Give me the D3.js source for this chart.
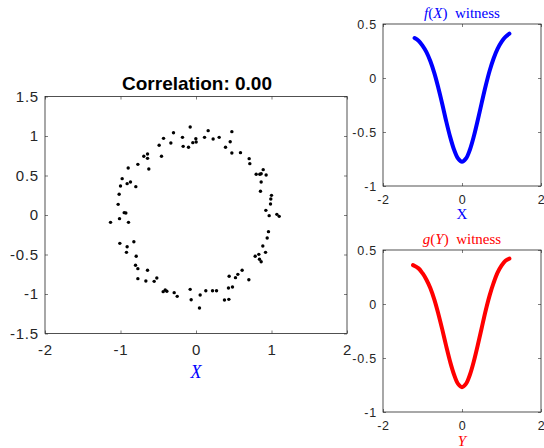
<!DOCTYPE html>
<html>
<head>
<meta charset="utf-8">
<script src="https://cdn.jsdelivr.net/npm/d3@7"></script>
<style>
  body { margin: 0; background: #fff; }
  svg { display: block; }
  .tick text { font-family: "Liberation Sans", Arial, sans-serif; fill: #262626; }
</style>
</head>
<body>
<script>
// scatter samples (X, Y)
var ptsX = [-0.077, -0.298, -0.430, -0.488, -0.333, -0.179, -0.170, -0.099, -0.002, -0.042,
  0.002, 0.113, 0.161, 0.227, 0.307, 0.475, 0.453, 0.391, 0.475, 0.589,
  -0.457, -0.691, -0.642, -0.642, -0.625, -0.770, -0.898, -0.978, -1.000, -0.912,
  -0.868, -0.797, -1.018, -1.031, -0.951, -0.929, -1.013, -1.132, -0.894,
  0.704, 0.713, 0.890, 0.797, 0.845, 0.863, 0.929, 0.863, 0.854, 1.000,
  0.991, 0.987, 0.925, 0.969, 1.071, 1.102, 0.960, 0.943, 0.885, 0.921,
  0.784, 0.832, 0.841, 0.863, 0.611, 0.554, 0.523, 0.439, 0.700, 0.483,
  0.430, 0.435, 0.377,
  -1.009, -0.912, -0.921, -0.823, -0.792, -0.801, -0.770, -0.642, -0.770, -0.664,
  -0.554, -0.519, -0.435, -0.408, -0.386, -0.289, -0.249, -0.077, -0.064, 0.055,
  0.130, 0.219, 0.272, 0.046];
var ptsY = [1.114, 1.042, 0.970, 0.882, 0.911, 0.983, 0.869, 0.857, 0.966, 0.916,
  0.924, 0.983, 1.068, 0.962, 0.983, 1.055, 0.928, 0.857, 0.785, 0.789,
  0.743, 0.743, 0.772, 0.717, 0.582, 0.641, 0.595, 0.460, 0.367, 0.397,
  0.418, 0.359, 0.262, 0.135, 0.030, 0.025, -0.046, -0.093, -0.093,
  0.713, 0.650, 0.574, 0.515, 0.515, 0.523, 0.506, 0.418, 0.300, 0.249,
  0.203, 0.139, 0.059, -0.008, 0.008, -0.017, -0.211, -0.291, -0.392, -0.473,
  -0.523, -0.498, -0.561, -0.591, -0.700, -0.751, -0.793, -0.776, -0.819, -0.911,
  -0.924, -1.068, -1.076,
  -0.359, -0.401, -0.473, -0.338, -0.523, -0.637, -0.679, -0.700, -0.806, -0.835,
  -0.840, -0.797, -0.970, -0.949, -0.966, -0.983, -1.030, -0.941, -1.072, -1.013,
  -0.958, -0.958, -0.958, -1.177];

// witness functions
var gridX = [-1.2, -1.1, -1.0, -0.9, -0.8, -0.7, -0.6, -0.5, -0.4, -0.3, -0.2, -0.1, 0,
  0.1, 0.2, 0.3, 0.4, 0.5, 0.6, 0.7, 0.8, 0.9, 1.0, 1.1, 1.2];
var fVals = [0.370, 0.345, 0.300, 0.240, 0.155, 0.045, -0.090, -0.240, -0.400, -0.545, -0.665, -0.745, -0.775,
  -0.746, -0.664, -0.540, -0.389, -0.228, -0.072, 0.067, 0.181, 0.270, 0.335, 0.380, 0.410];
var gridY = [-1.24, -1.1, -1.0, -0.9, -0.8, -0.7, -0.6, -0.5, -0.4, -0.3, -0.2, -0.1, 0,
  0.1, 0.2, 0.3, 0.4, 0.5, 0.6, 0.7, 0.8, 0.9, 1.0, 1.1, 1.2];
var gVals = [0.360, 0.330, 0.285, 0.225, 0.145, 0.040, -0.090, -0.235, -0.390, -0.535, -0.655, -0.740, -0.770,
  -0.740, -0.655, -0.530, -0.380, -0.220, -0.060, 0.080, 0.195, 0.290, 0.355, 0.400, 0.420];

var mainXTicks = [-2, -1, 0, 1, 2];
var mainYTicks = [-1.5, -1, -0.5, 0, 0.5, 1, 1.5];
var sideXTicks = [-2, 0, 2];
var sideYTicks = [-1, -0.5, 0, 0.5];

var svg = d3.select("body").append("svg")
  .attr("width", 544)
  .attr("height", 448);

var axisColor = "#262626";

function boxAxes(g, x, y, xt, yt, fs, padX) {
  var w = x.range()[1] - x.range()[0];
  var h = y.range()[0] - y.range()[1];
  var fmt = function (d) { return String(d); };  // plain hyphen minus like the original
  g.append("g").attr("transform", "translate(0," + y.range()[0] + ")")
    .call(d3.axisBottom(x).tickValues(xt).tickSize(-3).tickPadding(padX).tickFormat(fmt));
  g.append("g").attr("transform", "translate(" + x.range()[0] + ",0)")
    .call(d3.axisLeft(y).tickValues(yt).tickSize(-3).tickPadding(6).tickFormat(fmt));
  g.append("g").attr("transform", "translate(0," + y.range()[1] + ")")
    .call(d3.axisTop(x).tickValues(xt).tickSize(-3).tickFormat(""));
  g.append("g").attr("transform", "translate(" + x.range()[1] + ",0)")
    .call(d3.axisRight(y).tickValues(yt).tickSize(-3).tickFormat(""));
  g.selectAll(".domain").remove();
  g.selectAll(".tick line").attr("stroke", axisColor).attr("stroke-width", 0.6);
  g.selectAll(".tick text").style("font-size", fs + "px").style("letter-spacing", "0.8px");
  g.append("rect")
    .attr("x", x.range()[0]).attr("y", y.range()[1])
    .attr("width", w).attr("height", h)
    .attr("fill", "none").attr("stroke", axisColor).attr("stroke-width", 0.8);
}

// main scatter
var mx = d3.scaleLinear().domain([-2, 2]).range([45, 347]);
var my = d3.scaleLinear().domain([-1.5, 1.5]).range([333.5, 96.5]);
var gm = svg.append("g");
boxAxes(gm, mx, my, mainXTicks, mainYTicks, 15, 11);

gm.selectAll("circle.pt")
  .data(d3.range(ptsX.length))
  .enter().append("circle")
  .attr("class", "pt")
  .attr("cx", function (i) { return mx(ptsX[i]); })
  .attr("cy", function (i) { return my(ptsY[i]); })
  .attr("r", 1.7)
  .attr("fill", "#000");

svg.append("text")
  .attr("x", 197).attr("y", 90)
  .attr("text-anchor", "middle")
  .style("font-family", "Liberation Sans, Arial, sans-serif")
  .style("font-weight", "bold")
  .style("font-size", "19px")
  .text("Correlation: 0.00");

svg.append("text")
  .attr("x", 196).attr("y", 378)
  .attr("text-anchor", "middle")
  .style("font-family", "Liberation Serif, serif")
  .style("font-style", "italic")
  .style("font-size", "18px")
  .attr("fill", "#0000ff")
  .text("X");

// witness panels
var sx = d3.scaleLinear().domain([-2, 2]).range([383, 541]);
var line = d3.line().curve(d3.curveCatmullRom);

function witness(top, xs, ys, col, fname, vname, italicLabel, labelY) {
  var y = d3.scaleLinear().domain([-1, 0.5]).range([top + 162, top]);
  var g = svg.append("g");
  boxAxes(g, sx, y, sideXTicks, sideYTicks, 12.5, 9);
  g.append("path")
    .attr("d", line(xs.map(function (v, i) { return [sx(v), y(ys[i])]; })))
    .attr("fill", "none")
    .attr("stroke", col)
    .attr("stroke-width", 4)
    .attr("stroke-linecap", "round");

  var t = svg.append("text")
    .attr("x", 462).attr("y", top - 6)
    .attr("text-anchor", "middle")
    .attr("fill", col)
    .style("font-family", "Liberation Serif, serif")
    .style("font-size", "15px");
  t.append("tspan").style("font-style", "italic").text(fname);
  t.append("tspan").text("(");
  t.append("tspan").style("font-style", "italic").text(vname);
  t.append("tspan").text(")\u2002witness");

  svg.append("text")
    .attr("x", 462).attr("y", labelY)
    .attr("text-anchor", "middle")
    .attr("fill", col)
    .style("font-family", "Liberation Serif, serif")
    .style("font-style", italicLabel ? "italic" : "normal")
    .style("font-size", "15px")
    .text(vname);
}

witness(24, gridX, fVals, "#0000ff", "f", "X", false, 219);
witness(250, gridY, gVals, "#ff0000", "g", "Y", true, 446);
</script>
</body>
</html>
